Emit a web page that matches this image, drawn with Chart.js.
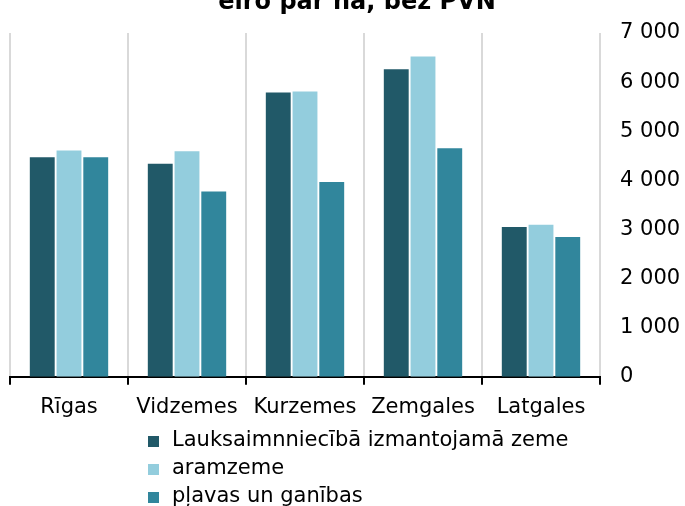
<!DOCTYPE html>
<html>
<head>
<meta charset="utf-8">
<script src="https://cdn.jsdelivr.net/npm/chart.js@4"></script>
<style>
  html, body { margin: 0; padding: 0; background: #fff; }
  #wrap { width: 685px; height: 506px; }
</style>
</head>
<body>
<div id="wrap"><canvas id="chart" width="685" height="506"></canvas></div>
<script>
const regions = ["Rīgas", "Vidzemes", "Kurzemes", "Zemgales", "Latgales"];
const seriesNames = ["Lauksaimnniecībā izmantojamā zeme", "aramzeme", "pļavas un ganības"];
const landValues = [4470, 4340, 5790, 6260, 3050];
const arableValues = [4610, 4590, 5810, 6520, 3095];
const meadowValues = [4470, 3775, 3965, 4655, 2845];
const colors = ["#215968", "#93cddd", "#31869c"];
const title = "eiro par ha, bez PVN";

// thousands separated with a space: 7 000
function fmt(v) {
  return String(v).replace(/\B(?=(\d{3})+(?!\d))/g, " ");
}

// title + left-aligned legend drawn on the canvas
const extras = {
  id: "extras",
  afterDraw(chart) {
    const ctx = chart.ctx;
    ctx.save();
    ctx.fillStyle = "#000";
    ctx.font = "bold 24px 'DejaVu Sans'";
    ctx.textAlign = "center";
    ctx.textBaseline = "alphabetic";
    ctx.fillText(title, 357, 9);

    ctx.font = "21px 'DejaVu Sans'";
    ctx.textAlign = "left";
    ctx.textBaseline = "middle";
    chart.data.datasets.forEach((ds, i) => {
      const y = 441 + i * 28;
      ctx.fillStyle = ds.backgroundColor;
      ctx.fillRect(148, y - 5, 11, 11);
      ctx.fillStyle = "#000";
      ctx.fillText(ds.label, 172, y);
    });
    ctx.restore();
  }
};

new Chart(document.getElementById("chart"), {
  type: "bar",
  data: {
    labels: regions,
    datasets: [
      { label: seriesNames[0], data: landValues, backgroundColor: colors[0] },
      { label: seriesNames[1], data: arableValues, backgroundColor: colors[1] },
      { label: seriesNames[2], data: meadowValues, backgroundColor: colors[2] }
    ]
  },
  options: {
    responsive: false,
    animation: false,
    layout: { padding: { top: 33, left: 10, right: 0, bottom: 76 } },
    datasets: { bar: { categoryPercentage: 0.68, barPercentage: 0.93, borderWidth: 0 } },
    plugins: { legend: { display: false }, title: { display: false }, tooltip: { enabled: false } },
    scales: {
      x: {
        grid: { offset: true, color: "#d9d9d9", lineWidth: 2, tickColor: "#000", tickLength: 8, tickWidth: 2 },
        border: { color: "#000", width: 2 },
        ticks: { color: "#000", font: { family: "DejaVu Sans", size: 21 }, padding: 10, maxRotation: 0 }
      },
      y: {
        position: "right",
        min: 0,
        max: 7000,
        afterFit(scale) { scale.width = 85; },
        grid: { display: false, drawTicks: false },
        border: { display: false },
        ticks: {
          stepSize: 1000,
          color: "#000",
          padding: 20,
          font: { family: "DejaVu Sans", size: 21 },
          callback: v => fmt(v)
        }
      }
    }
  },
  plugins: [extras]
});
</script>
</body>
</html>
